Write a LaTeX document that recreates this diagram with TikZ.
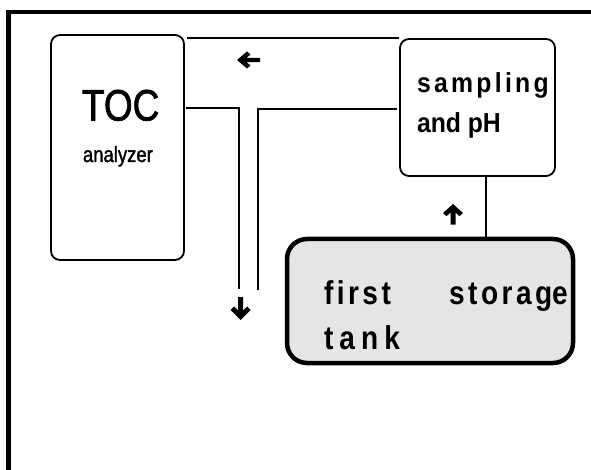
\documentclass[tikz,border=0pt]{standalone}
\usepackage{fontspec}
\setmainfont{Liberation Sans}
\newfontfamily\narrowfont[FakeStretch=0.84,FakeBold=1.5]{Liberation Sans}
\newfontfamily\sampfont[FakeStretch=0.9,LetterSpace=12]{Liberation Sans Bold}
\newfontfamily\sampplain[FakeStretch=0.9]{Liberation Sans Bold}
\newfontfamily\tankfont[FakeStretch=0.85,LetterSpace=10.5]{Liberation Sans Bold}
\newfontfamily\tankwide[FakeStretch=0.85,LetterSpace=18.5]{Liberation Sans Bold}
\tikzset{
  box/.style={draw, line width=1.8pt, rounded corners=9pt, rectangle, inner sep=0pt},
  tankbox/.style={draw, line width=4.5pt, rounded corners=20pt, rectangle, inner sep=0pt, fill=black!10},
  pipe/.style={line width=1.3pt},
  lbl/.style={anchor=base west, inner sep=0pt, outer sep=0pt},
  flowarrow/.pic={\fill (0,0) -- (10,-10) -- (6.5,-13.5) -- (2.5,-9.5) -- (2.5,-23) -- (-2.5,-23) -- (-2.5,-9.5) -- (-6.5,-13.5) -- (-10,-10) -- cycle;}
}
\begin{document}
\begin{tikzpicture}[x=1pt,y=-1pt]
\useasboundingbox (0,0) rectangle (591,470);
\clip (0,0) rectangle (591,470);
\draw[line width=4.6pt] (8.5,12) rectangle (640,520);
% boxes
\node[box, minimum width=133pt, minimum height=225pt] (toc) at (117.5,147.5) {};
\node[box, minimum width=155pt, minimum height=137pt] (samp) at (477.5,107.5) {};
\node[tankbox, minimum width=286pt, minimum height=124pt] (tank) at (430,301) {};
% texts
\node[lbl] (toct) at (82,120.5) {\narrowfont\fontsize{44}{44}\selectfont TOC};
\node[lbl] (anat) at (83,162) {\narrowfont\fontsize{22}{22}\selectfont analyzer};
\node[lbl] (st1) at (417,93) {\sampfont\fontsize{27.5}{27.5}\selectfont sampling};
\node[lbl] (st2) at (417,133) {\sampplain\fontsize{27.5}{27.5}\selectfont and pH};
\node[lbl] (tt1) at (324,304) {\tankfont\fontsize{33}{33}\selectfont first};
\node[anchor=base east, inner sep=0pt] (tt2) at (568,304) {\tankfont\fontsize{33}{33}\selectfont storag\addfontfeatures{LetterSpace=0}e};
\node[lbl] (tt3) at (324,349) {\tankwide\fontsize{33}{33}\selectfont tank};
% connectors
\coordinate (a1) at (186,108);
\coordinate (d1) at (239,289);
\coordinate (u1) at (258,290);
\coordinate (b2) at (397,109);
\coordinate (v) at (486,0);
\draw[pipe] ([xshift=2pt]toc.east |- samp.north) -- (samp.north west);
\draw[pipe] (a1) -| (d1);
\draw[pipe] (u1) |- (b2);
\draw[pipe] (samp.south -| v) -- (tank.north -| v);
% flow arrows
\pic[rotate=-90, xscale=0.85] at (237,60) {flowarrow};
\pic at (240.7,320) {flowarrow};
\pic[rotate=180, yscale=0.9] at (453,204) {flowarrow};
\end{tikzpicture}
\end{document}
